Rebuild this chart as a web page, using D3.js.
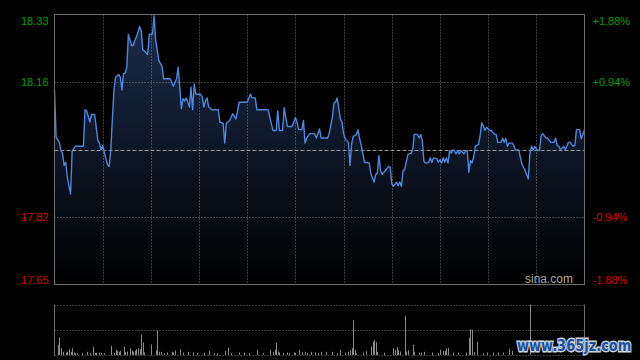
<!DOCTYPE html>
<html><head><meta charset="utf-8">
<script src="https://cdn.jsdelivr.net/npm/d3@7"></script>
<style>html,body{margin:0;padding:0;background:#000;}svg{display:block;}</style>
</head><body>
<svg id="chart" width="640" height="360"></svg>
<script>
// ---- data ----
const prevClose = 17.99;
const priceTicksLeft = [18.33, 18.16, 17.82, 17.65];
const pctTicksRight = ["+1.88%", "+0.94%", "-0.94%", "-1.88%"];
const gridMinutes = [30, 60, 90, 120, 150, 180, 210, 240, 270, 300];
const priceMinutes = [0,1,3,4,5,6,7,8,10,11,13,18,19,20,22,23,25,27,28,29,30,31,33,34,35,37,38,40,41,42,43,44,45,46,48,49,50,51,53,54,55,56,58,59,61,62,63,65,67,68,72,73,74,76,77,78,79,80,81,82,84,85,86,87,88,91,92,93,94,95,96,98,102,103,105,106,107,109,111,113,115,120,122,123,125,126,133,136,138,139,140,142,143,145,148,150,151,152,154,155,156,157,159,162,163,164,165,166,170,171,173,174,175,176,178,179,180,181,183,184,185,186,188,189,190,191,193,196,197,199,200,201,202,203,204,206,208,209,210,211,213,214,215,216,217,218,220,222,223,224,226,227,228,229,230,231,233,234,235,236,238,239,240,241,242,243,244,245,246,247,248,249,250,251,252,253,255,256,257,258,259,260,261,262,264,265,266,267,268,269,271,272,274,275,276,278,279,280,281,282,283,285,286,287,289,291,293,295,296,297,298,299,300,301,302,303,304,306,307,309,311,312,313,314,315,317,318,319,320,321,323,324,325,327,328,330];
const priceValues = [18.139,18.021,18.008,17.987,17.981,17.950,17.958,17.920,17.878,17.987,17.998,17.998,18.090,18.088,18.059,18.078,18.078,18.013,18.006,17.989,18.000,17.983,17.952,17.947,17.987,18.139,18.172,18.179,18.172,18.140,18.181,18.183,18.197,18.280,18.252,18.252,18.265,18.273,18.300,18.290,18.241,18.238,18.229,18.280,18.281,18.327,18.265,18.214,18.199,18.168,18.168,18.160,18.149,18.168,18.197,18.147,18.093,18.118,18.112,18.120,18.097,18.147,18.090,18.155,18.129,18.129,18.122,18.097,18.112,18.120,18.097,18.090,18.090,18.059,18.056,18.006,18.056,18.063,18.080,18.067,18.109,18.109,18.130,18.120,18.120,18.090,18.090,18.038,18.038,18.088,18.038,18.038,18.095,18.048,18.048,18.070,18.059,18.040,18.040,18.063,18.006,18.019,18.030,18.030,18.019,18.030,18.042,18.019,18.019,18.030,18.071,18.107,18.109,18.120,18.067,18.059,18.030,18.017,18.008,17.950,18.004,18.023,18.028,18.040,18.017,18.000,17.958,17.956,17.929,17.908,17.927,17.930,17.975,17.937,17.927,17.937,17.947,17.946,17.904,17.897,17.908,17.899,17.908,17.897,17.937,17.939,17.977,17.981,17.989,18.028,18.028,18.019,18.028,18.013,17.961,17.956,17.957,17.969,17.958,17.969,17.967,17.958,17.964,17.956,17.969,17.958,17.969,17.956,17.987,17.981,17.989,17.987,17.979,17.987,17.979,17.987,17.979,17.987,17.987,17.933,17.962,17.956,17.971,17.998,18.003,18.025,18.057,18.050,18.038,18.046,18.038,18.038,18.028,18.028,18.008,18.008,18.018,18.008,18.018,17.998,18.006,18.006,18.000,17.989,17.989,17.954,17.937,17.916,17.979,17.998,17.989,17.998,17.992,17.987,17.989,18.025,18.030,18.019,18.019,18.008,18.008,18.019,18.000,17.998,17.989,17.998,17.989,17.998,18.008,18.008,17.998,18.000,18.040,18.040,18.017,18.040];
const volMinutes = [2,3,4,5,7,8,9,10,11,12,13,14,17,20,22,24,25,26,28,29,31,35,37,38,39,40,41,43,44,45,47,48,49,50,51,52,53,54,55,56,60,63,64,65,66,68,70,73,74,75,78,80,83,86,89,93,96,99,101,106,108,110,115,118,121,126,130,134,136,137,138,139,140,142,145,146,149,150,152,154,156,157,160,162,164,166,169,173,176,178,181,183,184,185,186,187,188,192,194,197,198,199,200,201,205,211,212,213,214,215,218,219,220,223,224,227,228,230,235,239,240,242,243,244,245,248,251,256,258,259,260,261,263,267,269,273,276,279,283,285,296];
const volValues = [97,173,63,27,20,27,53,27,63,20,13,13,17,27,17,77,17,17,20,17,13,87,17,47,37,27,37,77,23,30,63,37,27,37,53,63,53,197,120,20,100,40,240,27,27,13,20,27,20,37,53,20,27,20,17,20,37,13,13,37,67,13,20,20,13,47,13,47,27,47,117,30,20,17,20,13,20,17,47,27,27,17,27,20,13,27,27,27,13,47,20,27,40,63,343,47,13,20,33,80,130,147,123,27,17,63,47,73,43,30,387,30,43,97,27,20,20,27,20,13,47,37,37,60,67,20,20,20,167,253,247,27,127,13,20,20,20,20,57,37,500];
const volMax = 500;

// ---- layout ----
const L = 54.5, R = 584.5, T = 14.5, B = 284.5;
const VT = 304.5, VB = 354.5;
const svg = d3.select("#chart");
svg.append("rect").attr("width",640).attr("height",360).attr("fill","#000");

const x = d3.scaleLinear().domain([0, 330]).range([L, R]);
const y = d3.scaleLinear().domain([17.65, 18.33]).range([B, T]);
const yv = d3.scaleLinear().domain([0, volMax]).range([VB, VT]);

const pts = priceMinutes.map((m, i) => ({m, p: priceValues[i]}));

// gradient
const defs = svg.append("defs");
const grad = defs.append("linearGradient").attr("id","g")
  .attr("gradientUnits","userSpaceOnUse").attr("x1",0).attr("x2",0).attr("y1",T).attr("y2",B);
grad.append("stop").attr("offset","0%").attr("stop-color","#1b2c4c");
grad.append("stop").attr("offset","100%").attr("stop-color","#000000");

// area
svg.append("path").datum(pts)
  .attr("d", d3.area().x(d => x(d.m)).y0(B).y1(d => y(d.p)))
  .attr("fill","url(#g)");

// vertical grid
svg.append("g").selectAll("line").data(gridMinutes).join("line")
  .attr("x1", d => Math.round(x(d)) + 0.5).attr("x2", d => Math.round(x(d)) + 0.5)
  .attr("y1", T).attr("y2", B)
  .attr("stroke","#7a7a7a").attr("stroke-dasharray","1,2");

// horizontal grid
svg.append("g").selectAll("line").data([18.16, 17.82]).join("line")
  .attr("x1", L).attr("x2", R)
  .attr("y1", d => Math.round(y(d)) + 0.5).attr("y2", d => Math.round(y(d)) + 0.5)
  .attr("stroke","#7a7a7a").attr("stroke-dasharray","1,2");
svg.append("line").attr("x1", L).attr("x2", R)
  .attr("y1", Math.round(y(prevClose)) + 0.5).attr("y2", Math.round(y(prevClose)) + 0.5)
  .attr("stroke","#9a9a9a").attr("stroke-dasharray","4,2");

// price line
svg.append("path").datum(pts)
  .attr("d", d3.line().x(d => x(d.m)).y(d => y(d.p)))
  .attr("fill","none").attr("stroke","#4d87e0").attr("stroke-width",1.4).attr("stroke-linejoin","round");

// frame
svg.append("rect").attr("x", L).attr("y", T).attr("width", R - L).attr("height", B - T)
  .attr("fill","none").attr("stroke","#6e6e6e");

// left axis
const axL = svg.append("g").attr("transform", `translate(${L - 3},0)`)
  .call(d3.axisLeft(y).tickValues(priceTicksLeft).tickSize(0).tickFormat(d3.format(".2f")));
axL.select(".domain").remove();
axL.selectAll("text")
  .attr("fill", d => d > prevClose ? "#00a000" : "#dd0000")
  .attr("font-family","'Liberation Sans', Arial, sans-serif").attr("font-size","11px")
  .attr("dy", (d, i) => i === 0 ? "0.95em" : (i === 3 ? "-0.1em" : "0.32em"));

// right axis
const axR = svg.append("g").attr("transform", `translate(${R + 5},0)`)
  .call(d3.axisRight(y).tickValues(priceTicksLeft).tickSize(0).tickFormat((d, i) => pctTicksRight[i]));
axR.select(".domain").remove();
axR.selectAll("text")
  .attr("fill", d => d > prevClose ? "#00a000" : "#dd0000")
  .attr("font-family","'Liberation Sans', Arial, sans-serif").attr("font-size","11px")
  .attr("dy", (d, i) => i === 0 ? "0.95em" : (i === 3 ? "-0.1em" : "0.32em"));

// sina watermark
svg.append("text").attr("x", 573).attr("y", 283).attr("text-anchor","end")
  .attr("fill","#a8a8a8").attr("font-family","'Liberation Sans', Arial, sans-serif").attr("font-size","12px")
  .text("sina.com");

// volume panel
svg.append("g").selectAll("line").data([VT, (VT + VB) / 2, VB]).join("line")
  .attr("x1", L).attr("x2", R).attr("y1", d => Math.round(d) + 0.5).attr("y2", d => Math.round(d) + 0.5)
  .attr("stroke","#7a7a7a").attr("stroke-dasharray","1,2");
svg.append("line").attr("x1", L).attr("x2", L).attr("y1", VT).attr("y2", VB + 1).attr("stroke","#6e6e6e");
svg.append("line").attr("x1", R).attr("x2", R).attr("y1", VT).attr("y2", VB + 1).attr("stroke","#6e6e6e");

svg.append("g").selectAll("line").data(volMinutes.map((m, i) => ({m, v: volValues[i]}))).join("line")
  .attr("x1", d => Math.round(x(d.m)) + 0.5).attr("x2", d => Math.round(x(d.m)) + 0.5)
  .attr("y1", VB + 0.5).attr("y2", d => yv(d.v))
  .attr("stroke","#8a8a8a").attr("stroke-width",1);

// site watermark
svg.append("g").attr("transform","translate(517,351) scale(1,1.25)")
  .append("text").attr("x", 0).attr("y", 0)
  .attr("font-family","'DejaVu Sans', sans-serif").attr("font-weight","bold").attr("font-size","13px")
  .attr("fill","#1d4f9e").attr("stroke","#c8d2dc").attr("stroke-width",2.2).attr("paint-order","stroke")
  .text("www.365jz.com");
</script>
</body></html>
